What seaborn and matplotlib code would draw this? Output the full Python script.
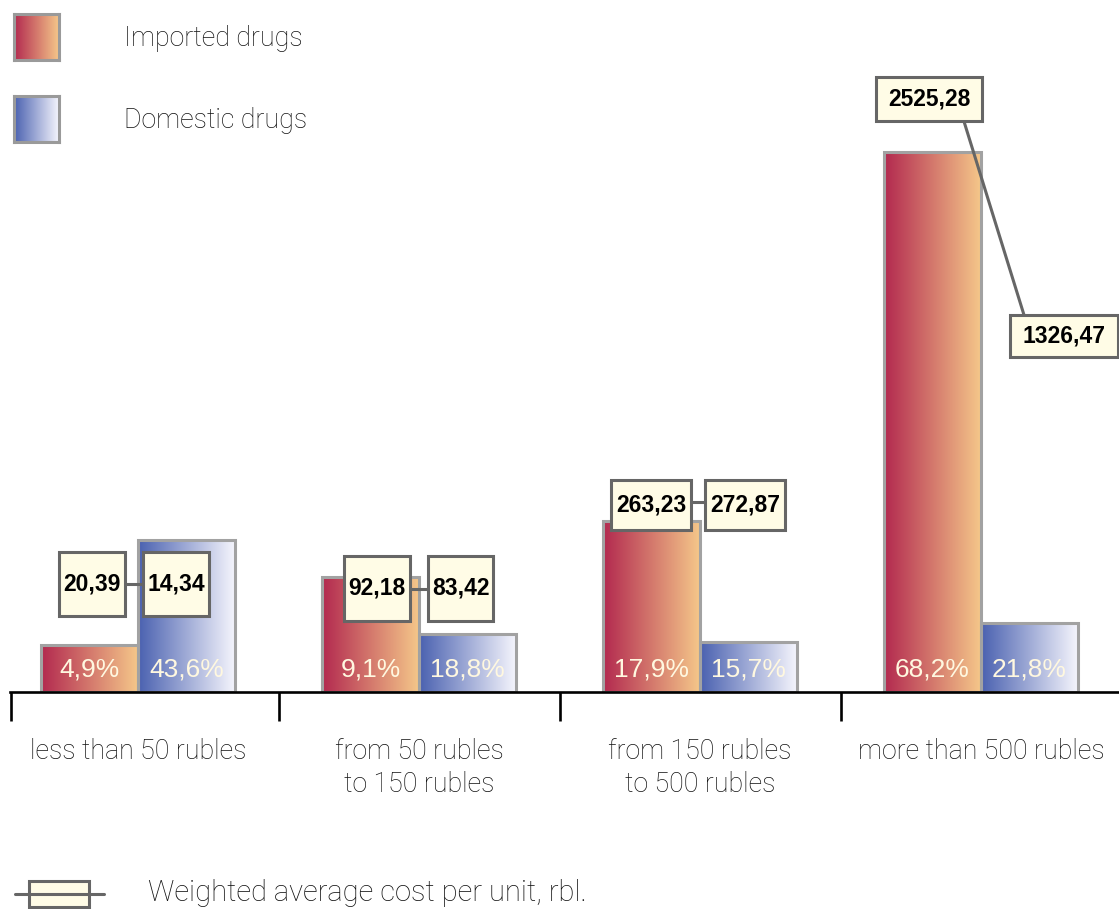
import numpy as np
import pandas as pd
import matplotlib
matplotlib.use("Agg")
import matplotlib.pyplot as plt
import seaborn as sns
from matplotlib.patches import Rectangle
from matplotlib.lines import Line2D

# ---- data -------------------------------------------------------------
segments = [
    "less than 50 rubles",
    "from 50 rubles\nto 150 rubles",
    "from 150 rubles\nto 500 rubles",
    "more than 500 rubles",
]
origins = ["Imported drugs", "Domestic drugs"]

# bar heights (relative sales volume)
imported_volume = [4.7, 11.5, 17.1, 54.0]
domestic_volume = [15.2, 5.8, 5.0, 6.9]

# share of each price segment within origin, %
imported_share = [4.9, 9.1, 17.9, 68.2]
domestic_share = [43.6, 18.8, 15.7, 21.8]

# weighted average cost per unit, rbl.
imported_cost = [20.39, 92.18, 263.23, 2525.28]
domestic_cost = [14.34, 83.42, 272.87, 1326.47]

legend_cost_label = "Weighted average cost per unit, rbl."

df = pd.DataFrame({
    "segment": segments * 2,
    "origin": [origins[0]] * 4 + [origins[1]] * 4,
    "volume": imported_volume + domestic_volume,
})

# ---- style ------------------------------------------------------------
sns.set_style("white")
plt.rcParams["font.family"] = ["Roboto", "DejaVu Sans"]
NUM_FONT = "Liberation Sans"

FIG_W, FIG_H, DPI = 1119, 909, 100
AX_LEFT_PX, BASE_PX = 10, 692
XMIN, XMAX = -0.4555, 3.491
YMAX = 69.2
px_x = (FIG_W - AX_LEFT_PX) / (XMAX - XMIN)
px_y = BASE_PX / YMAX

grad_colors = {
    origins[0]: ((0.70, 0.16, 0.31), (0.96, 0.78, 0.54)),
    origins[1]: ((0.29, 0.38, 0.69), (0.96, 0.96, 0.99)),
}
bar_edge = "#a2a2a2"
box_edge = "#666666"
box_fill = "#fffce6"
pct_color = "#fff8e0"
text_color = "#111111"


def gradient(c0, c1, n=256):
    t = np.linspace(0, 1, n)[None, :, None]
    return (1 - t) * np.array(c0) + t * np.array(c1)


fig = plt.figure(figsize=(FIG_W / DPI, FIG_H / DPI), dpi=DPI)
ax = fig.add_axes([AX_LEFT_PX / FIG_W, (FIG_H - BASE_PX) / FIG_H,
                   (FIG_W - AX_LEFT_PX) / FIG_W, BASE_PX / FIG_H])

sns.barplot(data=df, x="segment", y="volume", hue="origin", order=segments,
            hue_order=origins, palette=[grad_colors[o][0] for o in origins],
            width=0.69, edgecolor=bar_edge, linewidth=2.2, legend=False,
            ax=ax, zorder=2)

# horizontal colour gradient inside each bar
for container, origin in zip(ax.containers, origins):
    c0, c1 = grad_colors[origin]
    for bar in container:
        x0, w, h = bar.get_x(), bar.get_width(), bar.get_height()
        im = ax.imshow(gradient(c0, c1), extent=[x0, x0 + w, 0, h],
                       aspect="auto", interpolation="bilinear", zorder=1.5)
        im.set_clip_path(bar)
        bar.set_facecolor("none")

ax.set_xlim(XMIN, XMAX)
ax.set_ylim(0, YMAX)

# percentage labels at the foot of each bar
for container, shares in zip(ax.containers, [imported_share, domestic_share]):
    for bar, s in zip(container, shares):
        ax.text(bar.get_x() + bar.get_width() / 2, 22 / px_y,
                f"{s:.1f}%".replace(".", ","), ha="center", va="center",
                color=pct_color, fontsize=19, family=NUM_FONT,
                fontweight="normal", zorder=3)

# cost call-outs: horizontal offsets from group centre, height above baseline, box size (px)
box_layout = [
    dict(dx=(-46, 38), up=(108, 108), size=((66, 64), (66, 64)), link=((0, 0), (0, 0))),
    dict(dx=(-42, 41.5), up=(103.5, 103.5), size=((66, 65), (65, 65)), link=((0, 0), (0, 0))),
    dict(dx=(-49, 45), up=(187, 187), size=((80, 50), (80, 50)), link=((0, 3), (0, 3))),
    dict(dx=(-52, 83), up=(593, 356), size=((106, 44), (108, 42)), link=((28, 0), (-33.5, 0))),
]

for i, lay in enumerate(box_layout):
    costs = (imported_cost[i], domestic_cost[i])
    centres = []
    for k in range(2):
        cx = i + lay["dx"][k] / px_x
        cy = lay["up"][k] / px_y
        centres.append((cx, cy))
        w, h = lay["size"][k]
        ax.add_patch(Rectangle((cx - w / 2 / px_x, cy - h / 2 / px_y),
                               w / px_x, h / px_y, facecolor=box_fill,
                               edgecolor=box_edge, linewidth=2.2, zorder=5,
                               clip_on=False))
        ax.text(cx, cy, f"{costs[k]:.2f}".replace(".", ","), ha="center",
                va="center", fontsize=16.5, fontweight="bold", color="black",
                family=NUM_FONT, zorder=6)
    (sx, sy), (ex, ey) = lay["link"]
    ax.add_line(Line2D([centres[0][0] + sx / px_x, centres[1][0] + ex / px_x],
                       [centres[0][1] + sy / px_y, centres[1][1] + ey / px_y],
                       color=box_edge, linewidth=2.2, zorder=4))

# axis: baseline with boundary ticks, category labels below
for side in ["left", "right", "top"]:
    ax.spines[side].set_visible(False)
ax.spines["bottom"].set_linewidth(1.9)
ax.spines["bottom"].set_color("black")
ax.set_yticks([])
ax.set_xlabel("")
ax.set_ylabel("")
ax.set_xticks(range(len(segments)), segments)
ax.set_xticks([XMIN + 0.003, 0.5, 1.5, 2.5], minor=True)
ax.tick_params(axis="x", which="major", bottom=True, length=0, pad=33,
               labelsize=19.3, labelcolor=text_color)
ax.tick_params(axis="x", which="minor", bottom=True, length=21, width=1.9,
               color="black", direction="out")
for lab in ax.get_xticklabels():
    lab.set_fontweight("light")
    lab.set_linespacing(1.3)

# legend for bar colours
for j, origin in enumerate(origins):
    top = 14 + j * 82
    lax = fig.add_axes([14 / FIG_W, 1 - (top + 46) / FIG_H, 45 / FIG_W, 46 / FIG_H])
    lax.imshow(gradient(*grad_colors[origin]), aspect="auto", interpolation="bilinear")
    lax.set_xticks([])
    lax.set_yticks([])
    for sp in lax.spines.values():
        sp.set_color("#9a9a9a")
        sp.set_linewidth(2.2)
    fig.text(124 / FIG_W, 1 - (top + 24) / FIG_H, origin, ha="left", va="center",
             fontsize=19.3, fontweight="light", color=text_color)

# legend for cost call-outs
fig.add_artist(Line2D([15 / FIG_W, 104 / FIG_W], [1 - 894 / FIG_H] * 2,
                      color=box_edge, linewidth=2.2, transform=fig.transFigure))
fig.add_artist(Rectangle((29 / FIG_W, 1 - 907 / FIG_H), 60 / FIG_W, 26 / FIG_H,
                         facecolor=box_fill, edgecolor=box_edge, linewidth=2.2,
                         transform=fig.transFigure))
fig.text(148 / FIG_W, 1 - 893 / FIG_H, legend_cost_label, ha="left", va="center",
         fontsize=21, fontweight="light", color=text_color)

fig.savefig("out.png", dpi=DPI)
